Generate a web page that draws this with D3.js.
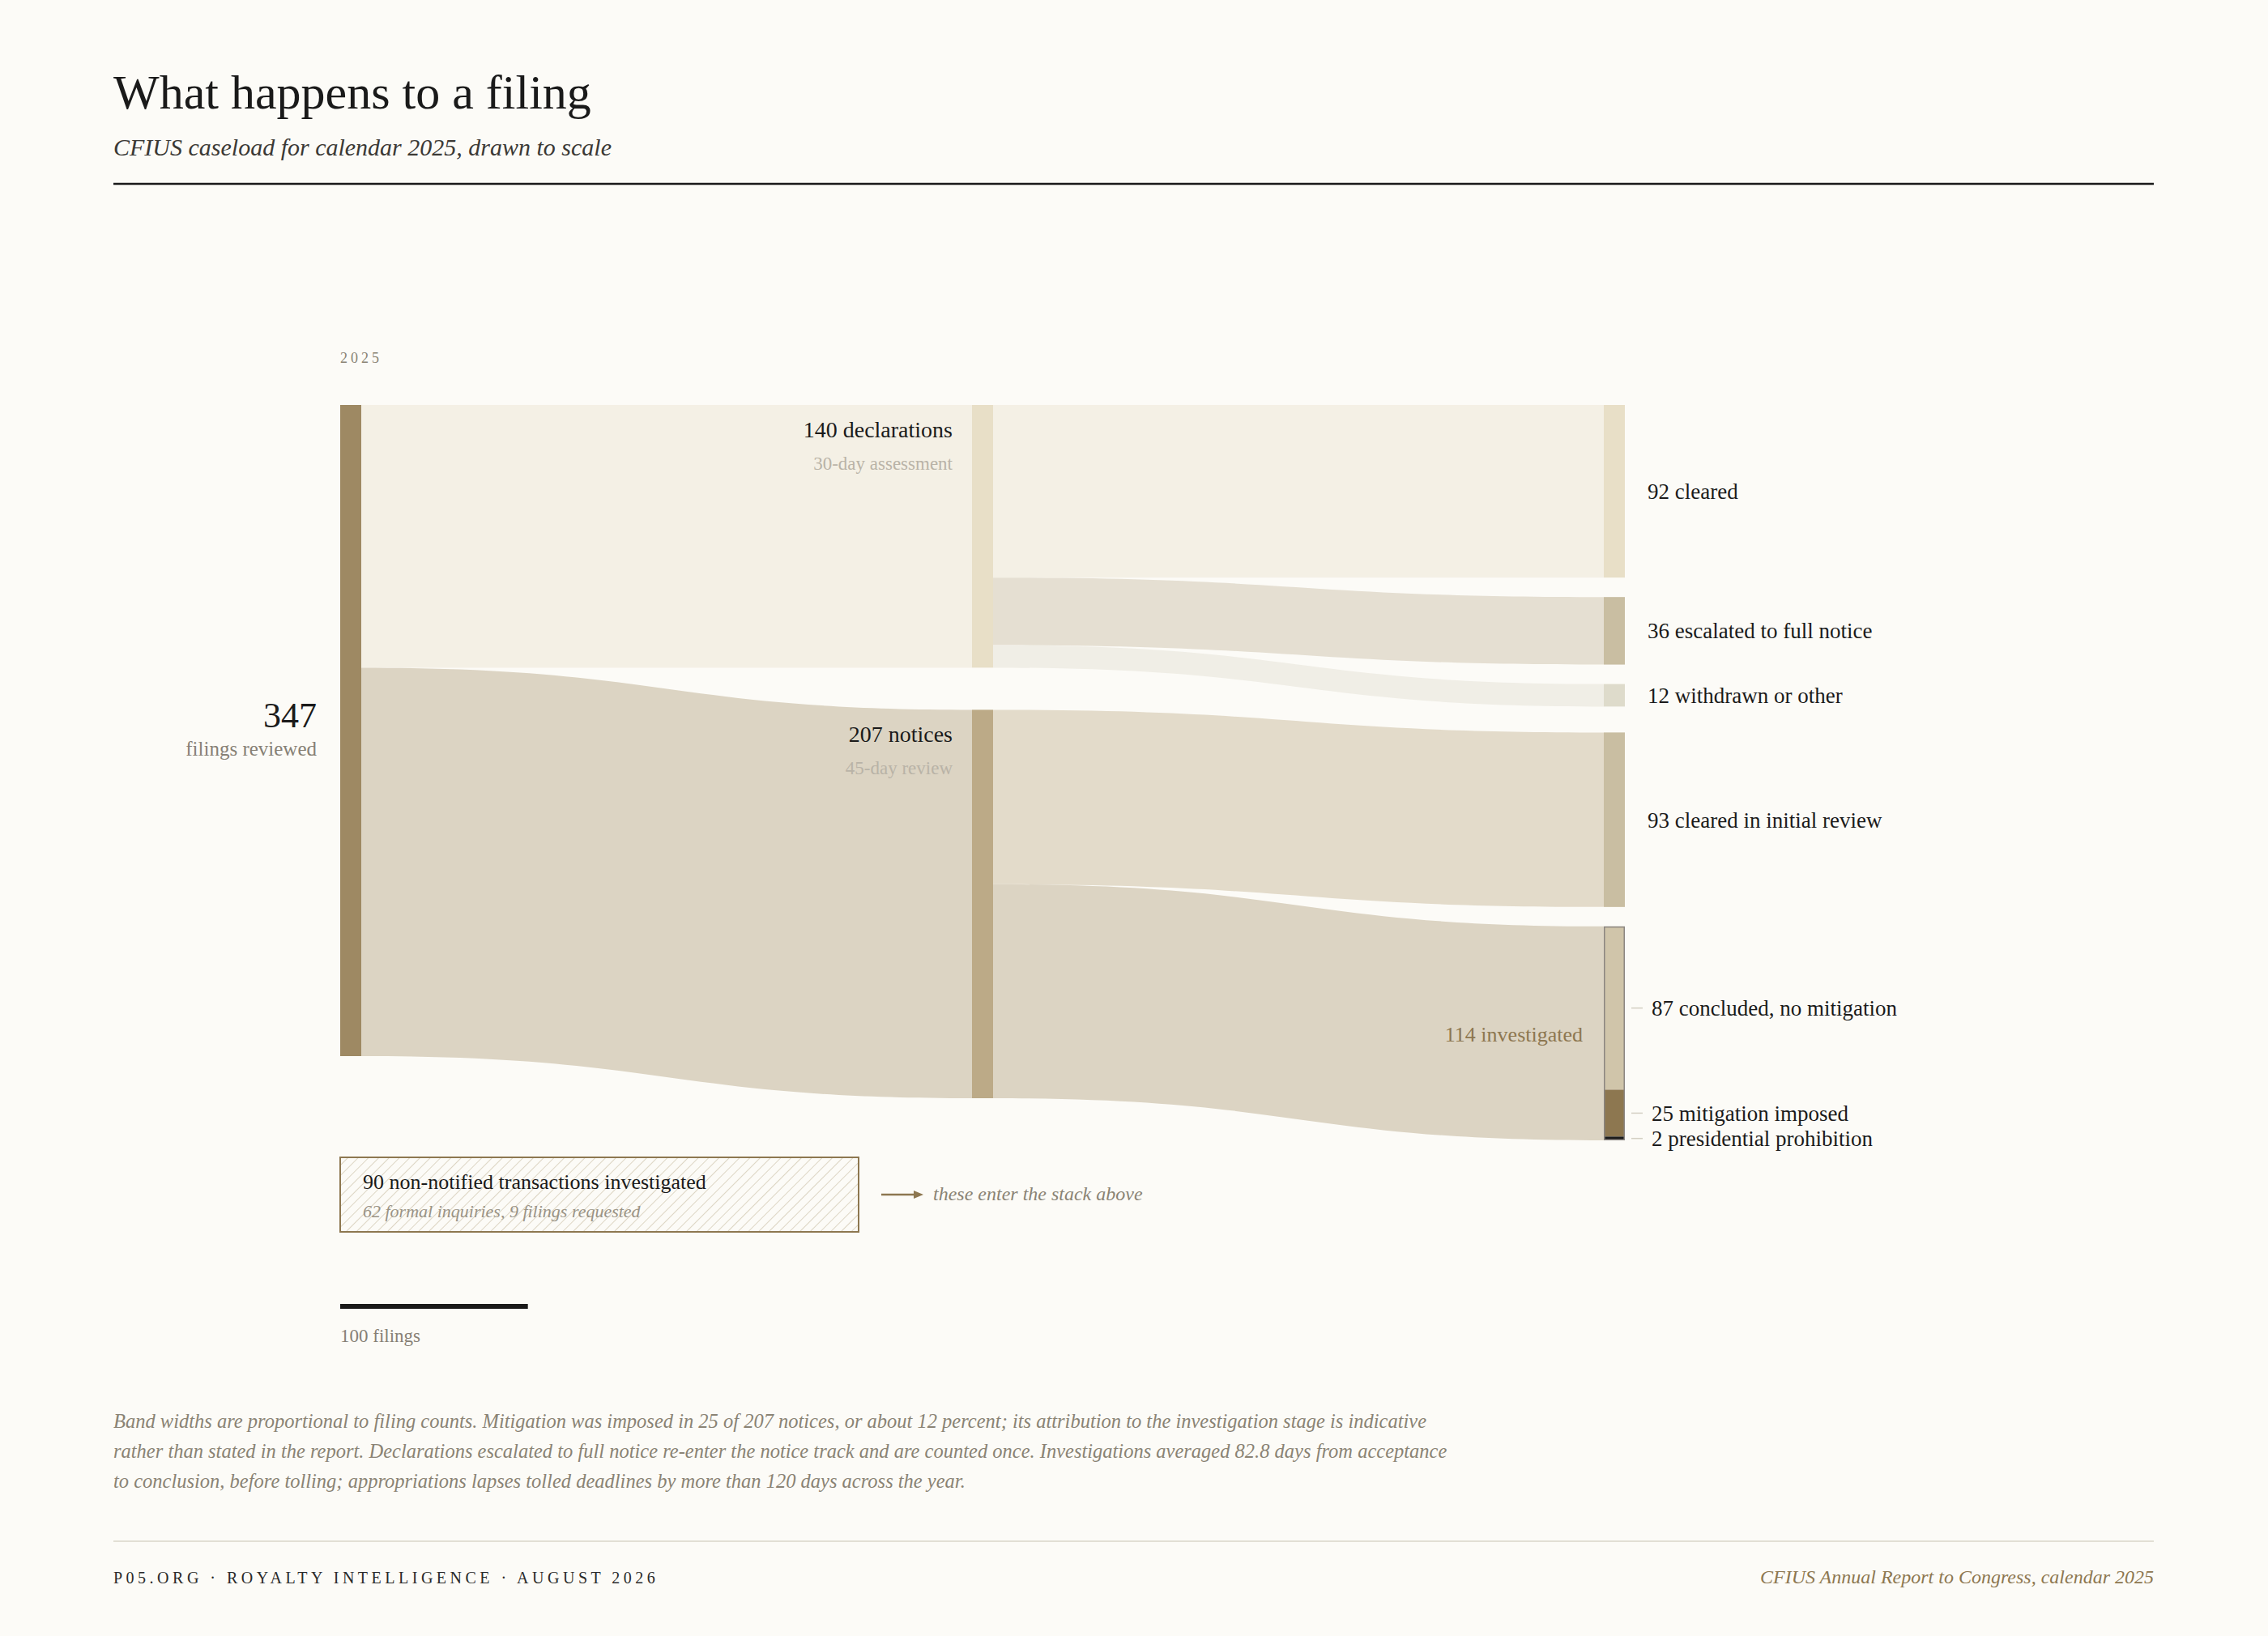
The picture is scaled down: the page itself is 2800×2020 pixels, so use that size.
<!DOCTYPE html>
<html>
<head>
<meta charset="utf-8">
<script src="https://cdn.jsdelivr.net/npm/d3@7"></script>
<style>
  body { margin: 0; background: #fcfbf7; }
  svg { display: block; font-family: "Liberation Serif", "DejaVu Serif", serif; }
  .title { font-size: 60px; fill: #1a1a1a; }
  .subtitle { font-size: 30px; font-style: italic; fill: #3b3935; }
  .year { font-size: 18px; letter-spacing: 4px; fill: #8a8374; }
  .label { font-size: 27px; fill: #1a1a1a; }
  .note { font-size: 23px; fill: #b9b3a7; }
  .total { font-size: 44px; fill: #1a1a1a; }
  .total-note { font-size: 25px; fill: #868075; }
  .invest { font-size: 26px; fill: #8d7750; }
  .box-title { font-size: 26px; fill: #1a1a1a; }
  .box-note { font-size: 22px; font-style: italic; fill: #9a9385; }
  .aside { font-size: 24px; font-style: italic; fill: #8a8374; }
  .scale-label { font-size: 23px; fill: #868075; }
  .footnote { font-size: 24.5px; font-style: italic; fill: #8a8374; }
  .footer-left { font-size: 20px; letter-spacing: 4.5px; fill: #2a2a2a; }
  .footer-right { font-size: 24px; font-style: italic; fill: #8d7750; }
</style>
</head>
<body>
<svg id="chart" width="2800" height="2020"></svg>
<script>
/* CFIUS caseload flow, drawn to scale */

const year = "2025";
const totalFilings = 347;
const tracks = ["declarations", "notices"];
const trackValues = [140, 207];
const trackNotes = ["30-day assessment", "45-day review"];
const declarationOutcomes = ["cleared", "escalated to full notice", "withdrawn or other"];
const declarationValues = [92, 36, 12];
const noticeOutcomes = ["cleared in initial review", "investigated"];
const noticeValues = [93, 114];
const investigationOutcomes = ["concluded, no mitigation", "mitigation imposed", "presidential prohibition"];
const investigationValues = [87, 25, 2];
const nonNotifiedLabels = ["non-notified transactions investigated", "formal inquiries", "filings requested"];
const nonNotifiedValues = [90, 62, 9];
const scaleBarValue = 100;
const footnoteLines = [
    "Band widths are proportional to filing counts. Mitigation was imposed in 25 of 207 notices, or about 12 percent; its attribution to the investigation stage is indicative",
    "rather than stated in the report. Declarations escalated to full notice re-enter the notice track and are counted once. Investigations averaged 82.8 days from acceptance",
    "to conclusion, before tolling; appropriations lapses tolled deadlines by more than 120 days across the year."
];

// colours
const trackFills = ["#e8dfc7", "#bcaa87"];
const trackLinkFills = ["#f4f0e5", "#dcd4c3"];
const declFills = ["#e8dfc7", "#c9bea2", "#dedbcb"];
const declLinkFills = ["#f4f0e5", "#e5dfd2", "#f0eee6"];
const noticeFills = ["#c9bea2", "#d0c5aa"];
const noticeLinkFills = ["#e3dbca", "#dcd4c3"];
const investFills = ["#d0c5aa", "#8d7750", "#1a1a1a"];

// layout
const marginLeft = 140, marginRight = 2659;
const bandTop = 500, nodeWidth = 26, nodeGap = 24, groupGap = 32, trackGap = 52;

const y = d3.scaleLinear().domain([0, totalFilings]).range([0, 804]);
const x = d3.scaleLinear().domain([0, 2]).range([420, 1980]);

const svg = d3.select("#chart");
const chart = {};

function stackNodes(values, y0, gap, col, fills, names) {
    let cur = y0;
    return values.map(function(v, i) {
        const n = {name: names[i], value: v, col: col, x0: x(col), x1: x(col) + nodeWidth,
                   y0: cur, y1: cur + y(v), fill: fills[i], out: 0, inn: 0};
        cur = n.y1 + gap;
        return n;
    });
}

const rootNode = {name: "filings reviewed", value: totalFilings, col: 0, x0: x(0), x1: x(0) + nodeWidth,
                  y0: bandTop, y1: bandTop + y(totalFilings), fill: "#9e8963", out: 0, inn: 0};
const trackNodes = stackNodes(trackValues, bandTop, trackGap, 1, trackFills, tracks);
const declNodes = stackNodes(declarationValues, bandTop, nodeGap, 2, declFills, declarationOutcomes);
const noticeNodes = stackNodes(noticeValues, declNodes[declNodes.length - 1].y1 + groupGap, nodeGap, 2, noticeFills, noticeOutcomes);

const links = [];
function link(s, t, v, fill) {
    const l = {source: s, target: t, value: v, fill: fill,
               sy0: s.y0 + s.out, ty0: t.y0 + t.inn};
    s.out += y(v);
    t.inn += y(v);
    links.push(l);
}
trackNodes.forEach((t, i) => link(rootNode, t, trackValues[i], trackLinkFills[i]));
declNodes.forEach((t, i) => link(trackNodes[0], t, declarationValues[i], declLinkFills[i]));
noticeNodes.forEach((t, i) => link(trackNodes[1], t, noticeValues[i], noticeLinkFills[i]));

function ribbon(l) {
    const x0 = l.source.x1, x1 = l.target.x0, xm = (x0 + x1) / 2;
    const h = y(l.value);
    const s0 = l.sy0, s1 = l.sy0 + h, t0 = l.ty0, t1 = l.ty0 + h;
    const p = d3.path();
    p.moveTo(x0, s0);
    p.bezierCurveTo(xm, s0, xm, t0, x1, t0);
    p.lineTo(x1, t1);
    p.bezierCurveTo(xm, t1, xm, s1, x0, s1);
    p.closePath();
    return p.toString();
}

chart.drawHeader = function(svg) {
    svg.append("text").attr("class", "title").attr("x", marginLeft).attr("y", 134)
        .text("What happens to a filing");
    svg.append("text").attr("class", "subtitle").attr("x", marginLeft).attr("y", 192)
        .text("CFIUS caseload for calendar 2025, drawn to scale");
    svg.append("line").attr("x1", marginLeft).attr("x2", marginRight).attr("y1", 227).attr("y2", 227)
        .attr("stroke", "#1a1a1a").attr("stroke-width", 2.5);
    svg.append("text").attr("class", "year").attr("x", x(0)).attr("y", 448).text(year);
}

chart.drawLinks = function(svg) {
    svg.append("g").selectAll("path.link")
        .data(links).enter()
        .append("path").attr("class", "link")
        .attr("d", ribbon)
        .attr("fill", d => d.fill);
}

chart.drawNodes = function(svg) {
    const nodes = [rootNode].concat(trackNodes, declNodes, noticeNodes.slice(0, 1));
    svg.append("g").selectAll("rect.node")
        .data(nodes).enter()
        .append("rect").attr("class", "node")
        .attr("x", d => d.x0).attr("y", d => d.y0)
        .attr("width", nodeWidth).attr("height", d => d.y1 - d.y0)
        .attr("fill", d => d.fill);

    // investigated node, split by outcome
    const inv = noticeNodes[1];
    let cur = inv.y0;
    const segs = investigationValues.map(function(v, i) {
        const s = {name: investigationOutcomes[i], value: v, y0: cur, y1: cur + y(v), fill: investFills[i]};
        cur = s.y1;
        return s;
    });
    const g = svg.append("g");
    g.selectAll("rect.seg")
        .data(segs).enter()
        .append("rect").attr("class", "seg")
        .attr("x", inv.x0).attr("y", d => d.y0)
        .attr("width", nodeWidth).attr("height", d => d.y1 - d.y0)
        .attr("fill", d => d.fill);
    g.append("rect")
        .attr("x", inv.x0 + 0.75).attr("y", inv.y0 + 0.75)
        .attr("width", nodeWidth - 1.5).attr("height", inv.y1 - inv.y0 - 1.5)
        .attr("fill", "none").attr("stroke", "#8a8580").attr("stroke-width", 1.5);

    g.selectAll("line.tick")
        .data(segs).enter()
        .append("line").attr("class", "tick")
        .attr("x1", inv.x1 + 8).attr("x2", inv.x1 + 22)
        .attr("y1", d => (d.y0 + d.y1) / 2).attr("y2", d => (d.y0 + d.y1) / 2)
        .attr("stroke", "#d4d0c4").attr("stroke-width", 1.5);
    g.selectAll("text.seg-label")
        .data(segs).enter()
        .append("text").attr("class", "label")
        .attr("x", inv.x1 + 33).attr("y", d => (d.y0 + d.y1) / 2).attr("dy", "0.35em")
        .text(d => d.value + " " + d.name);

    svg.append("text").attr("class", "invest")
        .attr("x", inv.x0 - 26).attr("y", (inv.y0 + inv.y1) / 2).attr("dy", "0.4em")
        .attr("text-anchor", "end")
        .text(inv.value + " " + inv.name);
}

chart.drawLabels = function(svg) {
    const mid = (rootNode.y0 + rootNode.y1) / 2;
    svg.append("text").attr("class", "total").attr("x", rootNode.x0 - 29).attr("y", mid - 4)
        .attr("text-anchor", "end").text(rootNode.value);
    svg.append("text").attr("class", "total-note").attr("x", rootNode.x0 - 29).attr("y", mid + 31)
        .attr("text-anchor", "end").text(rootNode.name);

    trackNodes.forEach(function(n, i) {
        svg.append("text").attr("class", "label").style("font-size", "28px")
            .attr("x", n.x0 - 24).attr("y", n.y0 + 40)
            .attr("text-anchor", "end").text(n.value + " " + n.name);
        svg.append("text").attr("class", "note")
            .attr("x", n.x0 - 24).attr("y", n.y0 + 80)
            .attr("text-anchor", "end").text(trackNotes[i]);
    });

    svg.append("g").selectAll("text.outcome")
        .data(declNodes.concat(noticeNodes.slice(0, 1))).enter()
        .append("text").attr("class", "label")
        .attr("x", d => d.x1 + 28).attr("y", d => (d.y0 + d.y1) / 2).attr("dy", "0.35em")
        .text(d => d.value + " " + d.name);
}

chart.drawNonNotified = function(svg) {
    const defs = svg.append("defs");
    const pat = defs.append("pattern").attr("id", "hatch")
        .attr("patternUnits", "userSpaceOnUse")
        .attr("width", 9).attr("height", 9)
        .attr("patternTransform", "rotate(45)");
    pat.append("line").attr("x1", 0).attr("x2", 0).attr("y1", 0).attr("y2", 9)
        .attr("stroke", "#d5ccb6").attr("stroke-width", 1.6);

    const bx = x(0), by = 1429, bw = 640, bh = 92;
    svg.append("rect").attr("x", bx).attr("y", by).attr("width", bw).attr("height", bh)
        .attr("fill", "url(#hatch)").attr("stroke", "#8d7750").attr("stroke-width", 2);
    svg.append("text").attr("class", "box-title").attr("x", bx + 28).attr("y", by + 39)
        .text(nonNotifiedValues[0] + " " + nonNotifiedLabels[0]);
    svg.append("text").attr("class", "box-note").attr("x", bx + 28).attr("y", by + 74)
        .text(nonNotifiedValues[1] + " " + nonNotifiedLabels[1] + ", " + nonNotifiedValues[2] + " " + nonNotifiedLabels[2]);

    const ay = by + 46;
    svg.append("line").attr("x1", bx + bw + 28).attr("x2", bx + bw + 72).attr("y1", ay).attr("y2", ay)
        .attr("stroke", "#8d7750").attr("stroke-width", 2.5);
    svg.append("path")
        .attr("d", d3.line()([[bx + bw + 68, ay - 5], [bx + bw + 80, ay], [bx + bw + 68, ay + 5]]) + "Z")
        .attr("fill", "#8d7750");
    svg.append("text").attr("class", "aside").attr("x", bx + bw + 92).attr("y", ay + 7)
        .text("these enter the stack above");
}

chart.drawScaleBar = function(svg) {
    svg.append("rect").attr("x", x(0)).attr("y", 1610)
        .attr("width", y(scaleBarValue)).attr("height", 6).attr("fill", "#1a1a1a");
    svg.append("text").attr("class", "scale-label").attr("x", x(0)).attr("y", 1657)
        .text(scaleBarValue + " filings");
}

chart.drawFooter = function(svg) {
    svg.append("g").selectAll("text.footnote")
        .data(footnoteLines).enter()
        .append("text").attr("class", "footnote")
        .attr("x", marginLeft).attr("y", (d, i) => 1763 + i * 37)
        .text(d => d);
    svg.append("line").attr("x1", marginLeft).attr("x2", marginRight).attr("y1", 1903).attr("y2", 1903)
        .attr("stroke", "#e2dfd5").attr("stroke-width", 2);
    svg.append("text").attr("class", "footer-left").attr("x", marginLeft).attr("y", 1955)
        .text("P05.ORG \u00b7 ROYALTY INTELLIGENCE \u00b7 AUGUST 2026");
    svg.append("text").attr("class", "footer-right").attr("x", marginRight).attr("y", 1955)
        .attr("text-anchor", "end").text("CFIUS Annual Report to Congress, calendar 2025");
}

chart.drawHeader(svg);
chart.drawLinks(svg);
chart.drawNodes(svg);
chart.drawLabels(svg);
chart.drawNonNotified(svg);
chart.drawScaleBar(svg);
chart.drawFooter(svg);
</script>
</body>
</html>
